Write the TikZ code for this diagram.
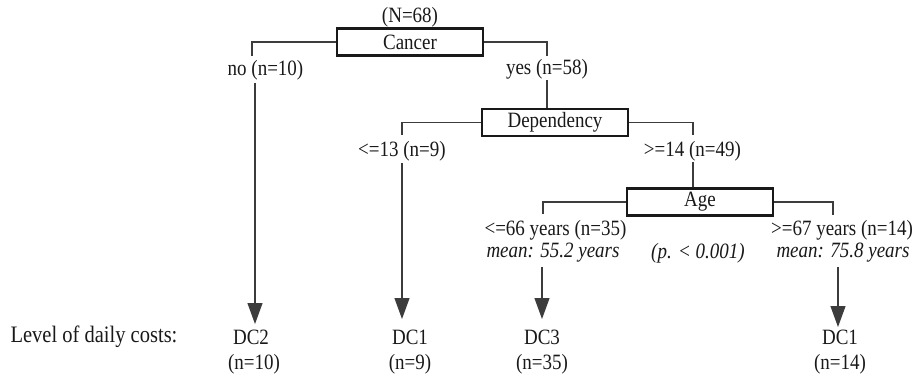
\documentclass[tikz,border=0pt]{standalone}
\usepackage{fontspec}
\setmainfont{Liberation Serif}
\usetikzlibrary{arrows.meta}
\definecolor{ink}{RGB}{25,25,25}
\definecolor{lin}{RGB}{60,60,60}
\newcommand{\tall}[1]{\scalebox{1}[1.15]{#1}}
\begin{document}
\begin{tikzpicture}[x=1pt,y=-1pt,
  every node/.style={font=\fontsize{19}{22}\selectfont, text=ink, inner sep=0pt},
  box/.style={draw=ink, line width=2.4pt, minimum width=146pt, minimum height=27pt},
  conn/.style={draw=lin, line width=1.1pt},
  arr/.style={conn, -{Triangle[length=21pt,width=15pt]}},
  ital/.style={font=\fontsize{19}{22}\selectfont\itshape}]
\useasboundingbox (0,0) rectangle (917,373);

% decision boxes
\node[box] (cancer) at (410,42) {\tall{Cancer}};
\node (N) at (410,17) {\tall{(N=68)}};
\node[box] (dep) at (555,122.5) {\tall{Dependency}};
\node[box] (age) at (700,202) {\tall{Age}};

% branch labels
\node (no) at (265.5,70) {\tall{no (n=10)}};
\node (yes) at (547,69) {\tall{yes (n=58)}};
\node (le13) at (402,151) {\tall{<=13 (n=9)}};
\node (ge14) at (692.5,151) {\tall{>=14 (n=49)}};
\node (le66) at (555.5,230) {\tall{<=66 years (n=35)}};
\node (ge67) at (842,230) {\tall{>=67 years (n=14)}};
\node[ital] (m1) at (553,253) {\tall{mean: 55.2 years}};
\node[ital] (pv) at (698,253) {\tall{(p. < 0.001)}};
\node[ital] (m2) at (843,253) {\tall{mean: 75.8 years}};

% leaves
\node[font=\fontsize{20.5}{24}\selectfont] (lev) at (94,337) {\tall{Level of daily costs:}};
\node (dc2) at (251,337) {\tall{DC2}};
\node (n10) at (254,364) {\tall{(n=10)}};
\node (dc1a) at (410,337) {\tall{DC1}};
\node (n9) at (410,364) {\tall{(n=9)}};
\node (dc3) at (542,337) {\tall{DC3}};
\node (n35) at (542,364) {\tall{(n=35)}};
\node (dc1b) at (840,337) {\tall{DC1}};
\node (n14) at (840,364) {\tall{(n=14)}};

% connector coordinates
\coordinate (noA) at (252,56);
\coordinate (noB) at (255,83);
\coordinate (noT) at (255,324);
\coordinate (yesA) at (547,56);
\coordinate (yesB) at (547,80);
\coordinate (leA) at (402,135);
\coordinate (leB) at (402,163);
\coordinate (leT) at (402,319);
\coordinate (geA) at (693,135);
\coordinate (geB) at (693,162);
\coordinate (l66A) at (543,214);
\coordinate (l66B) at (542,267);
\coordinate (l66T) at (542,319);
\coordinate (g67A) at (833,215);
\coordinate (g67B) at (838,267);
\coordinate (g67T) at (838,327);

% connectors
\draw[conn] (cancer.west) -| (noA);
\draw[arr] (noB) -- (noT);
\draw[conn] (cancer.east) -| (yesA);
\draw[conn] (yesB) -- (yesB |- dep.north);
\draw[conn] (dep.west) -| (leA);
\draw[arr] (leB) -- (leT);
\draw[conn] (dep.east) -| (geA);
\draw[conn] (geB) -- (geB |- age.north);
\draw[conn] (age.west) -| (l66A);
\draw[arr] (l66B) -- (l66T);
\draw[conn] (age.east) -| (g67A);
\draw[arr] (g67B) -- (g67T);
\end{tikzpicture}
\end{document}
